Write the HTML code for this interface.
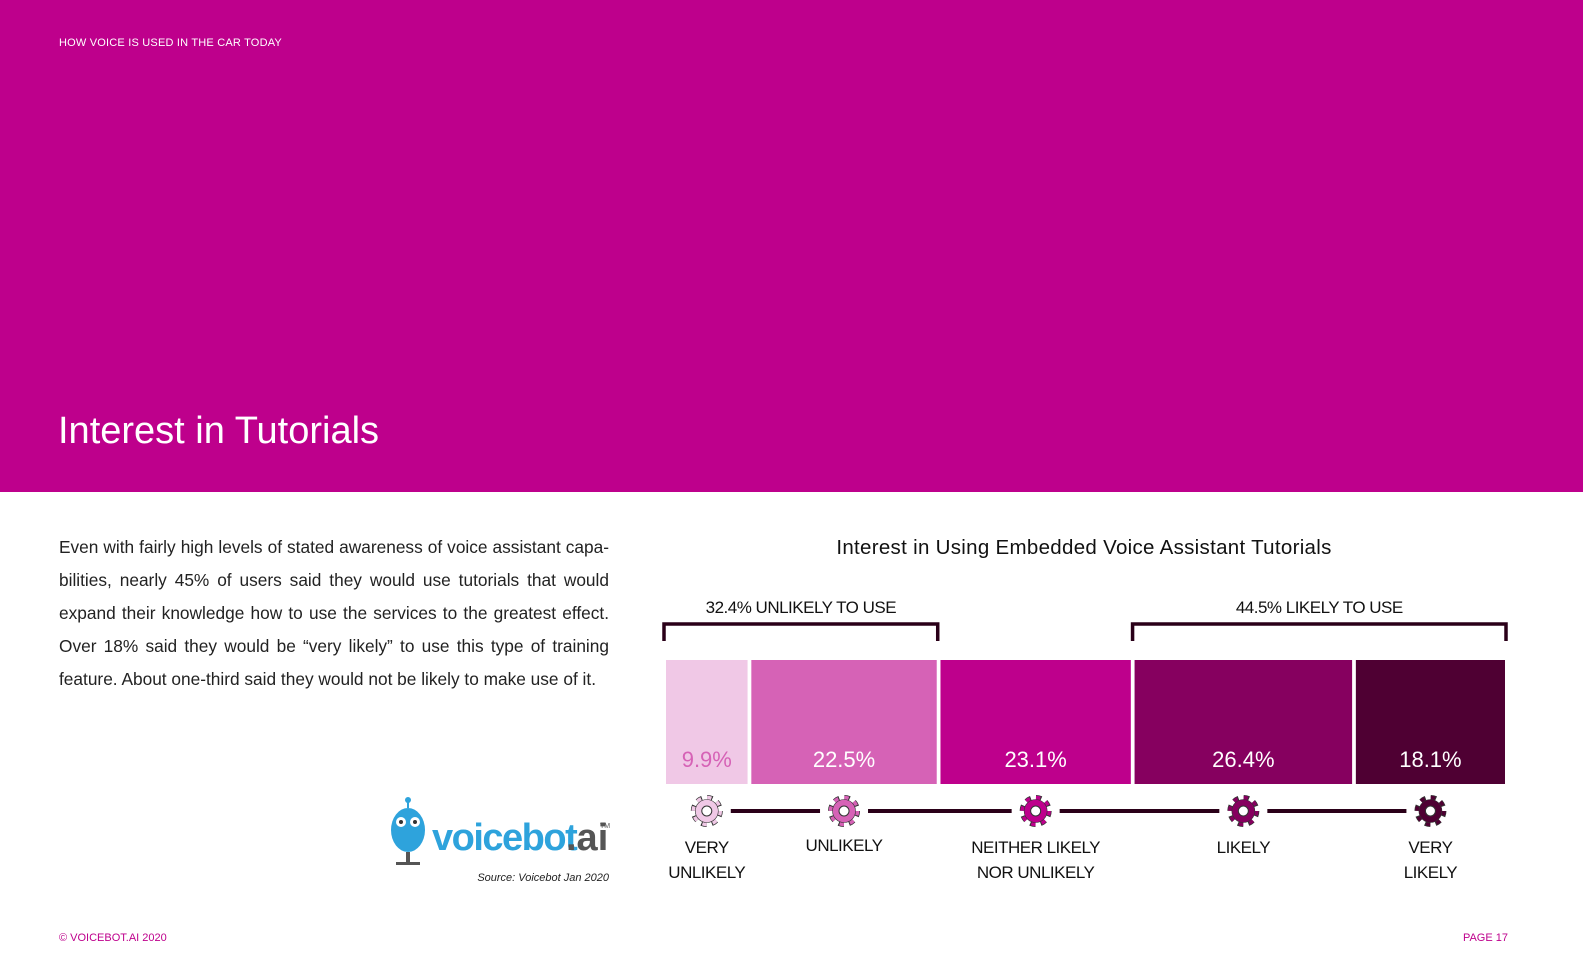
<!DOCTYPE html>
<html><head><meta charset="utf-8"><style>
body{margin:0;width:1583px;height:975px;position:relative;background:#fff;font-family:"Liberation Sans",sans-serif;overflow:hidden}
.abs{position:absolute}
</style></head><body>
<div class="abs" style="left:0;top:0;width:1583px;height:492px;background:#be008c"></div>
<div class="abs" style="left:59px;top:37px;color:#fff;font-size:11px;letter-spacing:0.2px">HOW VOICE IS USED IN THE CAR TODAY</div>
<div class="abs" style="left:58px;top:410px;color:#fff;font-size:38px">Interest in Tutorials</div>
<div class="abs" style="left:59px;top:531px;width:550px;font-size:17.3px;line-height:33px;color:#222;text-align:justify">Even with fairly high levels of stated awareness of voice assistant capa-bilities, nearly 45% of users said they would use tutorials that would expand their knowledge how to use the services to the greatest effect. Over 18% said they would be “very likely” to use this type of training feature. About one-third said they would not be likely to make use of it.</div>
<div class="abs" style="left:388px;top:796px;width:222px;height:72px">
<svg width="222" height="72"><g fill="#2ea3dc"><circle cx="20" cy="4" r="3"/><rect x="19" y="4" width="2" height="8"/><ellipse cx="20" cy="34" rx="17" ry="22"/><rect x="18" y="56" width="4" height="10" fill="#555"/><rect x="8" y="66" width="24" height="3" fill="#555"/></g><circle cx="13" cy="26" r="5" fill="#fff"/><circle cx="27" cy="26" r="5" fill="#fff"/><circle cx="13" cy="26" r="2" fill="#333"/><circle cx="27" cy="26" r="2" fill="#333"/>
<text x="44" y="54" font-family="Liberation Sans" font-weight="bold" font-size="38" fill="#2ea3dc" letter-spacing="-1.5">voicebot</text><text x="178" y="54" font-family="Liberation Sans" font-weight="bold" font-size="38" fill="#555">.ai</text><text x="212" y="32" font-size="7" fill="#555">TM</text></svg></div>
<div class="abs" style="left:400px;top:872px;width:209px;text-align:right;font-size:11px;font-style:italic;color:#222">Source: Voicebot Jan 2020</div>
<div class="abs" style="left:59px;top:932px;font-size:11px;color:#be008c">© VOICEBOT.AI 2020</div>
<div class="abs" style="left:1440px;top:932px;width:68px;text-align:right;font-size:11px;color:#be008c">PAGE 17</div>
<div class="abs" style="left:700px;top:536px;width:768px;text-align:center;font-size:20.5px;color:#111;letter-spacing:0.3px">Interest in Using Embedded Voice Assistant Tutorials</div>
<svg class="abs" style="left:0;top:0" width="1583" height="975" id="chart"></svg>
<script>
const categories=["VERY|UNLIKELY","UNLIKELY","NEITHER LIKELY|NOR UNLIKELY","LIKELY","VERY|LIKELY"];
const values=[9.9,22.5,23.1,26.4,18.1];
const colors=["#f0c8e6","#d662b6","#be008c","#86005f","#4f0033"];
const labelColors=["#d662b6","#fff","#fff","#fff","#fff"];
const groupLabels=["32.4% UNLIKELY TO USE","44.5% LIKELY TO USE"];
const groupRanges=[[0,1],[3,4]];
const svg=document.getElementById('chart');const NS="http://www.w3.org/2000/svg";
const x0=666,x1=1505,gap=3.75,y0=660,h=124;
const total=values.reduce((a,b)=>a+b,0);
const scale=(x1-x0-gap*(values.length-1))/total;
function mk(t,a,p){const e=document.createElementNS(NS,t);for(const k in a)e.setAttribute(k,a[k]);(p||svg).appendChild(e);return e;}
let x=x0;const pos=[];
values.forEach((v,i)=>{const w=v*scale;pos.push([x,x+w]);
const r=mk('rect',{x:x,y:y0,width:w,height:h,fill:colors[i]});


const t=mk('text',{x:x+w/2,y:767,'text-anchor':'middle','font-size':22,fill:labelColors[i],'font-family':'Liberation Sans'});t.textContent=v.toFixed(1)+'%';


x+=w+gap;});
const cx=pos.map(p=>(p[0]+p[1])/2);
for(let i=0;i<cx.length-1;i++){mk('line',{x1:cx[i]+24,x2:cx[i+1]-24,y1:811,y2:811,stroke:'#2a0018','stroke-width':4});}
cx.forEach((c,i)=>{const g=mk('g',{});


mk('circle',{cx:c,cy:811,r:13,fill:'none',stroke:'#333','stroke-width':6,'stroke-dasharray':'5.2 5'},g);
mk('circle',{cx:c,cy:811,r:13,fill:'none',stroke:colors[i],'stroke-width':4.5,'stroke-dasharray':'4.2 6'},g);
mk('circle',{cx:c,cy:811,r:11.5,fill:colors[i],stroke:'#333','stroke-width':0.6},g);
mk('circle',{cx:c,cy:811,r:5,fill:'#fff',stroke:'#333','stroke-width':1},g);
const lines=categories[i].split('|');
lines.forEach((l,j)=>{const t=mk('text',{x:c,y:(i==1?851:853)+j*25,'text-anchor':'middle','font-size':17,fill:'#111','font-family':'Liberation Sans','letter-spacing':'-0.5'});t.textContent=l;

});});
groupRanges.forEach((g,i)=>{const a=pos[g[0]][0]-2,b=pos[g[1]][1]+1;
mk('path',{d:`M${a} 641 V624 H${b} V641`,fill:'none',stroke:'#2a0018','stroke-width':3.5});
const t=mk('text',{x:(a+b)/2,y:613,'text-anchor':'middle','font-size':17,fill:'#111','font-family':'Liberation Sans','letter-spacing':'-0.5'});t.textContent=groupLabels[i];

});
</script>
</body></html>
